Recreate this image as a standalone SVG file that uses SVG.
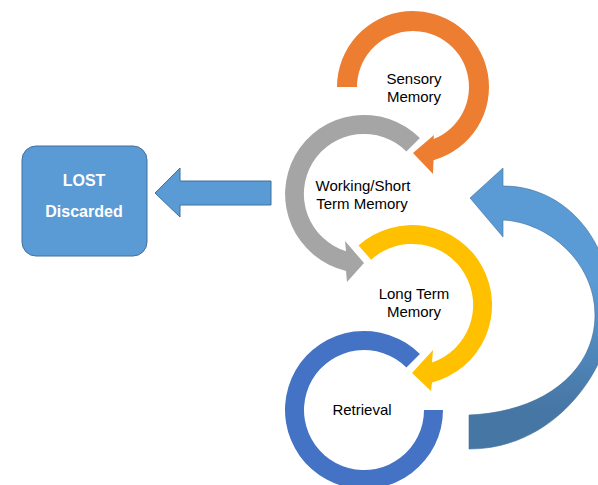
<svg xmlns="http://www.w3.org/2000/svg" width="598" height="485" viewBox="0 0 598 485">
<defs>
<linearGradient id="gBlue" x1="0" y1="280" x2="0" y2="410" gradientUnits="userSpaceOnUse">
<stop offset="0" stop-color="#5B9BD5"/>
<stop offset="1" stop-color="#4676A4"/>
</linearGradient>
<style>
.lbl{font-family:"Liberation Sans",Arial,sans-serif;font-size:15px;fill:#000;text-anchor:middle}
.wlbl{font-family:"Liberation Sans",Arial,sans-serif;font-size:16px;font-weight:bold;fill:#fff;text-anchor:middle}
.blk{fill:#5B9BD5;stroke:#41719C;stroke-width:1}
</style>
</defs>
<rect width="598" height="485" fill="#fff"/>
<g id="node-sensory">
<path fill="#ED7D31" d="M337,87 A76,76 0 1 1 433.5,160.2 L433,174 L413,153 L434,135 L433.5,139.1 A56,56 0 1 0 357,87 Z"/>
<text class="lbl" x="414" y="84">Sensory</text>
<text class="lbl" x="414" y="102">Memory</text>
</g>
<g id="node-working">
<path fill="#A5A5A5" d="M419.9,138.1 A79,79 0 1 0 346,270.9 L347,282 L364,263 L345,241 L346,251.2 A60,60 0 1 1 406.4,151.6 Z"/>
<text class="lbl" x="363" y="191">Working/Short</text>
<text class="lbl" x="362" y="209">Term Memory</text>
</g>
<g id="node-longterm">
<path fill="#FFC000" d="M358.5,245.6 A80,80 0 1 1 432,382.5 L431,391 L412,373 L433,350 L432,362.6 A61,61 0 1 0 371.2,259.7 Z"/>
<text class="lbl" x="414" y="299">Long Term</text>
<text class="lbl" x="414" y="317">Memory</text>
</g>
<g id="node-retrieval">
<path fill="#4472C4" d="M443,410 A79,79 0 1 1 419.9,354.1 L406.4,367.6 A60,60 0 1 0 424,410 Z"/>
<text class="lbl" x="362" y="415">Retrieval</text>
</g>
<g id="node-lost">
<rect class="blk" x="22" y="146" width="125" height="110" rx="14"/>
<text class="wlbl" x="84" y="186">LOST</text>
<text class="wlbl" x="84" y="217">Discarded</text>
</g>
<g id="connectors">
<path class="blk" d="M155,193 L180,168 L180,181 L271,181 L271,205 L180,205 L180,217 Z"/>
<path fill="url(#gBlue)" stroke="#41719C" stroke-width="0.6" d="M469,449 C560,449 612,362 612,312 C612,240 565,186 503,186 L503,168 L470,198 L503,237 L503,220 C548,222 595,262 595,315 C595,370 545,412 469,415 Z"/>
</g>
</svg>
